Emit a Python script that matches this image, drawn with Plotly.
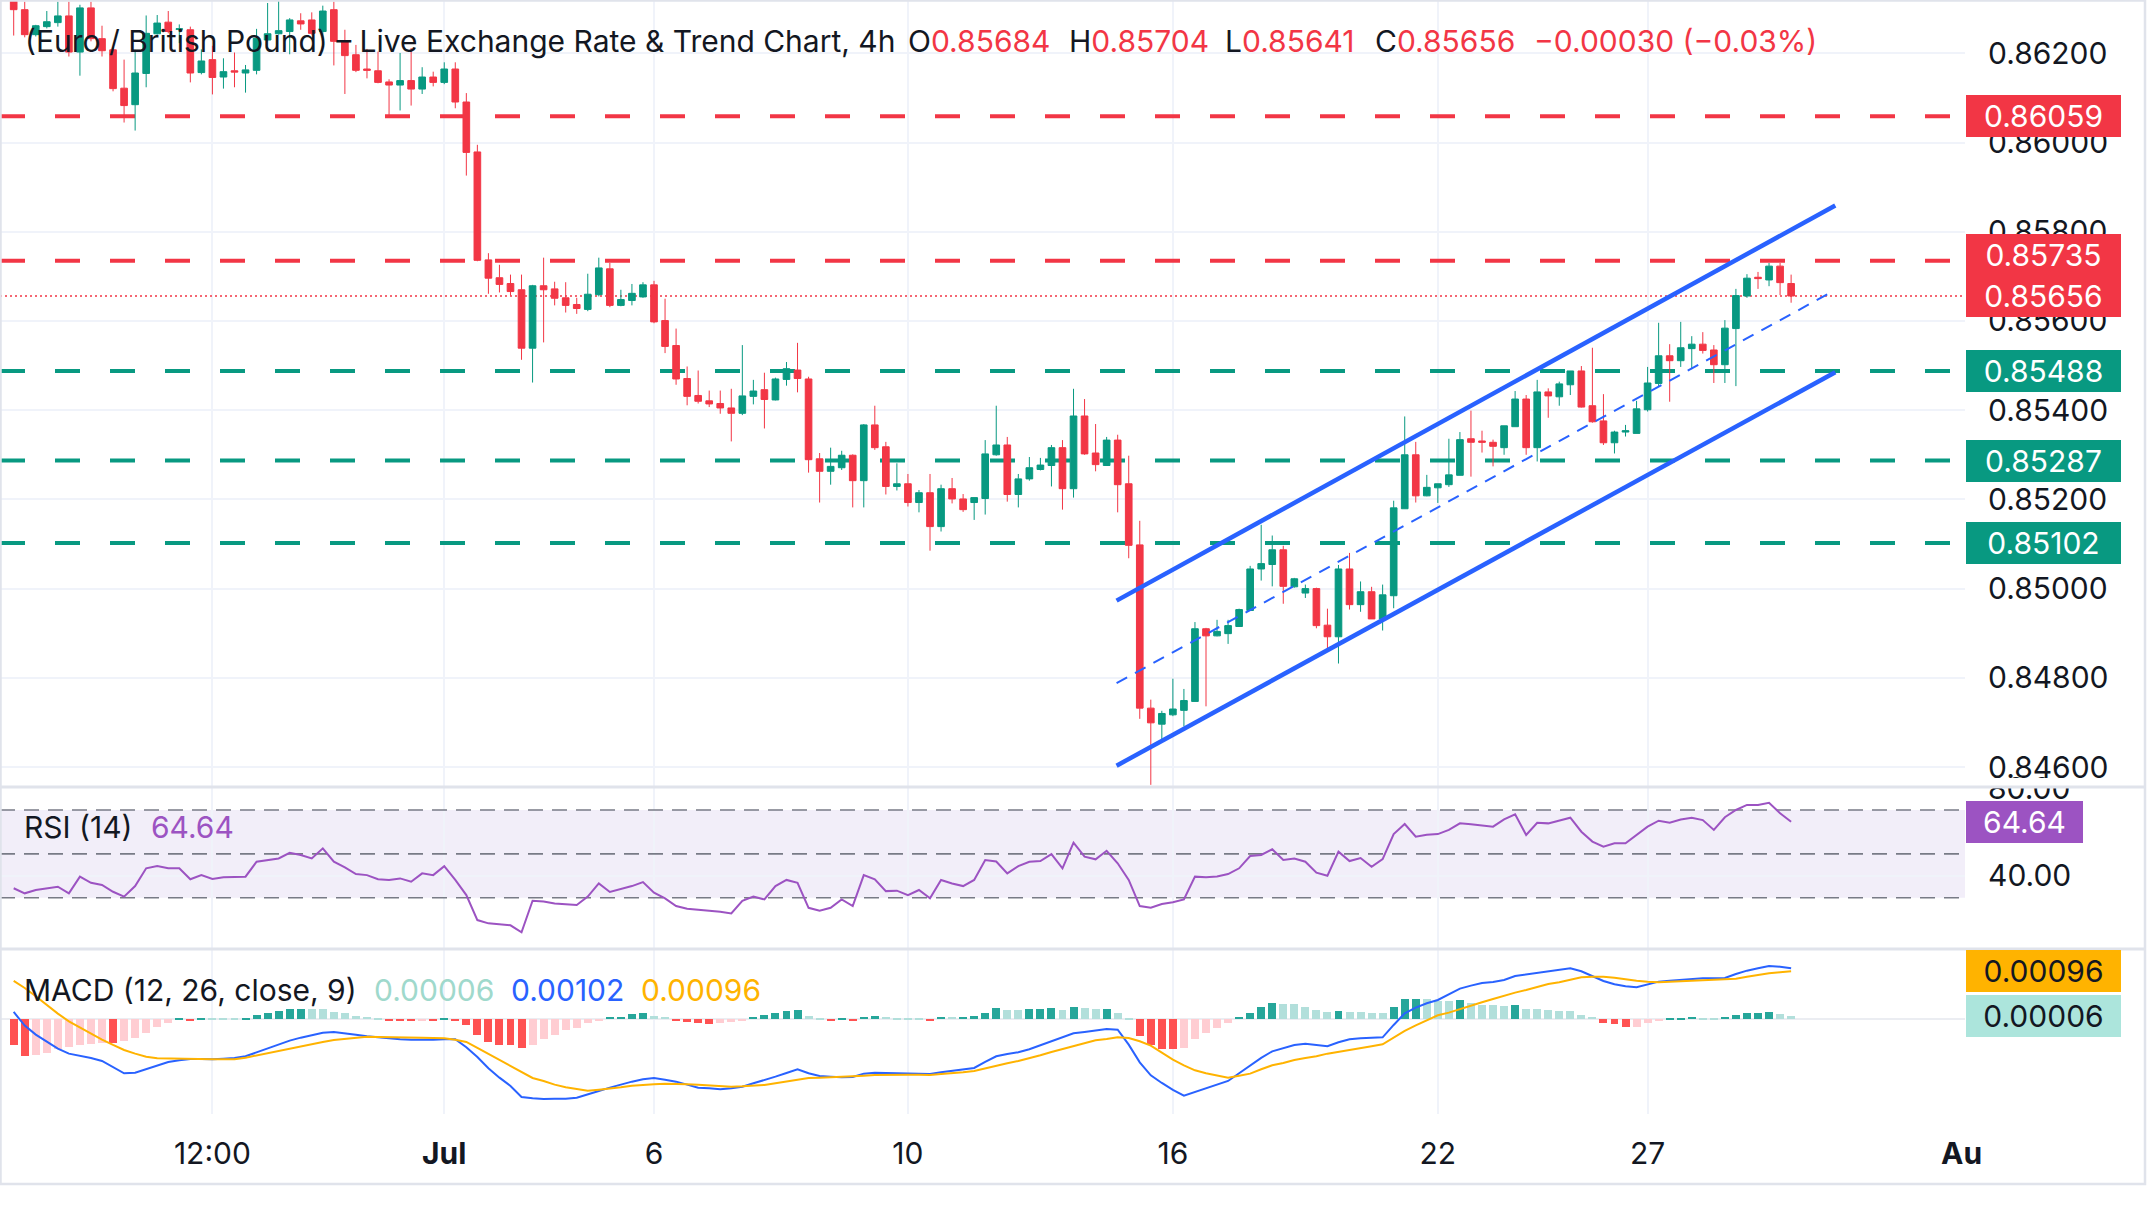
import plotly.graph_objects as go

# ---------------- data ----------------
candle_open = [
    0.86318, 0.86298, 0.86242, 0.86260, 0.86269, 0.86284, 0.86203, 0.86302, 0.86233, 0.86208,
    0.86122, 0.86085, 0.86155, 0.86244, 0.86270, 0.86254, 0.86253, 0.86157, 0.86186, 0.86147,
    0.86161, 0.86156, 0.86162, 0.86230, 0.86244, 0.86249, 0.86273, 0.86275, 0.86249, 0.86298,
    0.86227, 0.86197, 0.86165, 0.86161, 0.86136, 0.86129, 0.86139, 0.86120, 0.86147, 0.86135,
    0.86165, 0.86091, 0.85979, 0.85737, 0.85697, 0.85684, 0.85670, 0.85539, 0.85679, 0.85672,
    0.85652, 0.85637, 0.85626, 0.85659, 0.85717, 0.85635, 0.85646, 0.85654, 0.85681, 0.85601,
    0.85545, 0.85471, 0.85433, 0.85421, 0.85415, 0.85405, 0.85393, 0.85431, 0.85446, 0.85423,
    0.85469, 0.85490, 0.85470, 0.85291, 0.85263, 0.85271, 0.85299, 0.85242, 0.85367, 0.85318,
    0.85229, 0.85235, 0.85193, 0.85215, 0.85139, 0.85224, 0.85201, 0.85193, 0.85202, 0.85300,
    0.85322, 0.85211, 0.85246, 0.85267, 0.85276, 0.85316, 0.85224, 0.85387, 0.85304, 0.85276,
    0.85333, 0.85235, 0.85098, 0.84732, 0.84696, 0.84717, 0.84727, 0.84747, 0.84910, 0.84894,
    0.84899, 0.84915, 0.84951, 0.85044, 0.85054, 0.85087, 0.85004, 0.84990, 0.85000, 0.84918,
    0.84892, 0.85044, 0.84964, 0.84993, 0.84932, 0.84984, 0.85179, 0.85300, 0.85208, 0.85226,
    0.85233, 0.85254, 0.85336, 0.85331, 0.85328, 0.85316, 0.85363, 0.85425, 0.85316, 0.85441,
    0.85430, 0.85457, 0.85488, 0.85410, 0.85376, 0.85327, 0.85351, 0.85348, 0.85401, 0.85460,
    0.85522, 0.85511, 0.85538, 0.85548, 0.85535, 0.85502, 0.85583, 0.85656, 0.85698, 0.85692,
    0.85723, 0.85684]
candle_high = [
    0.86326, 0.86316, 0.86264, 0.86295, 0.86316, 0.86316, 0.86309, 0.86316, 0.86262, 0.86215,
    0.86186, 0.86208, 0.86285, 0.86286, 0.86295, 0.86265, 0.86260, 0.86209, 0.86217, 0.86189,
    0.86202, 0.86174, 0.86255, 0.86313, 0.86318, 0.86279, 0.86290, 0.86292, 0.86307, 0.86316,
    0.86253, 0.86219, 0.86210, 0.86204, 0.86142, 0.86201, 0.86212, 0.86169, 0.86159, 0.86180,
    0.86180, 0.86111, 0.85995, 0.85752, 0.85726, 0.85704, 0.85704, 0.85681, 0.85742, 0.85688,
    0.85687, 0.85652, 0.85706, 0.85742, 0.85730, 0.85670, 0.85683, 0.85687, 0.85690, 0.85650,
    0.85583, 0.85498, 0.85489, 0.85444, 0.85444, 0.85448, 0.85546, 0.85468, 0.85484, 0.85473,
    0.85508, 0.85551, 0.85475, 0.85304, 0.85316, 0.85309, 0.85301, 0.85369, 0.85410, 0.85329,
    0.85281, 0.85257, 0.85221, 0.85257, 0.85233, 0.85248, 0.85212, 0.85204, 0.85333, 0.85410,
    0.85340, 0.85257, 0.85295, 0.85293, 0.85322, 0.85333, 0.85448, 0.85425, 0.85369, 0.85340,
    0.85345, 0.85298, 0.85152, 0.84751, 0.84726, 0.84798, 0.84775, 0.84925, 0.84912, 0.84930,
    0.84930, 0.84955, 0.85051, 0.85143, 0.85119, 0.85096, 0.85024, 0.85009, 0.85002, 0.84955,
    0.85053, 0.85080, 0.85016, 0.85004, 0.85009, 0.85197, 0.85386, 0.85329, 0.85255, 0.85235,
    0.85336, 0.85351, 0.85399, 0.85354, 0.85334, 0.85365, 0.85443, 0.85434, 0.85468, 0.85449,
    0.85464, 0.85488, 0.85499, 0.85540, 0.85436, 0.85354, 0.85367, 0.85421, 0.85497, 0.85596,
    0.85548, 0.85598, 0.85566, 0.85575, 0.85546, 0.85602, 0.85672, 0.85705, 0.85710, 0.85730,
    0.85730, 0.85704]
candle_low = [
    0.86240, 0.86236, 0.86238, 0.86256, 0.86260, 0.86193, 0.86150, 0.86227, 0.86193, 0.86115,
    0.86045, 0.86027, 0.86124, 0.86242, 0.86245, 0.86223, 0.86135, 0.86153, 0.86108, 0.86121,
    0.86124, 0.86112, 0.86153, 0.86227, 0.86242, 0.86198, 0.86253, 0.86242, 0.86230, 0.86173,
    0.86109, 0.86158, 0.86144, 0.86133, 0.86062, 0.86072, 0.86083, 0.86109, 0.86126, 0.86131,
    0.86077, 0.85926, 0.85734, 0.85661, 0.85664, 0.85657, 0.85513, 0.85462, 0.85552, 0.85635,
    0.85619, 0.85616, 0.85622, 0.85655, 0.85631, 0.85633, 0.85635, 0.85652, 0.85595, 0.85528,
    0.85457, 0.85411, 0.85415, 0.85407, 0.85392, 0.85330, 0.85389, 0.85413, 0.85359, 0.85422,
    0.85455, 0.85440, 0.85260, 0.85193, 0.85233, 0.85266, 0.85182, 0.85182, 0.85311, 0.85211,
    0.85220, 0.85184, 0.85171, 0.85085, 0.85128, 0.85191, 0.85172, 0.85154, 0.85166, 0.85298,
    0.85195, 0.85182, 0.85242, 0.85265, 0.85229, 0.85177, 0.85204, 0.85300, 0.85263, 0.85275,
    0.85171, 0.85068, 0.84708, 0.84560, 0.84658, 0.84714, 0.84691, 0.84747, 0.84736, 0.84893,
    0.84876, 0.84914, 0.84950, 0.85018, 0.85005, 0.84966, 0.85002, 0.84979, 0.84911, 0.84860,
    0.84832, 0.84953, 0.84948, 0.84932, 0.84906, 0.84956, 0.85179, 0.85193, 0.85207, 0.85192,
    0.85228, 0.85254, 0.85251, 0.85305, 0.85274, 0.85300, 0.85363, 0.85300, 0.85285, 0.85383,
    0.85410, 0.85434, 0.85406, 0.85372, 0.85322, 0.85303, 0.85341, 0.85348, 0.85397, 0.85453,
    0.85419, 0.85497, 0.85492, 0.85527, 0.85461, 0.85461, 0.85454, 0.85652, 0.85672, 0.85678,
    0.85658, 0.85641]
candle_close = [
    0.86298, 0.86242, 0.86262, 0.86271, 0.86284, 0.86203, 0.86302, 0.86233, 0.86206, 0.86121,
    0.86083, 0.86156, 0.86245, 0.86268, 0.86249, 0.86255, 0.86156, 0.86183, 0.86146, 0.86159,
    0.86158, 0.86163, 0.86234, 0.86244, 0.86251, 0.86275, 0.86266, 0.86245, 0.86295, 0.86227,
    0.86195, 0.86162, 0.86162, 0.86135, 0.86129, 0.86139, 0.86120, 0.86147, 0.86135, 0.86165,
    0.86091, 0.85978, 0.85736, 0.85696, 0.85682, 0.85666, 0.85539, 0.85679, 0.85670, 0.85651,
    0.85635, 0.85628, 0.85660, 0.85719, 0.85635, 0.85648, 0.85662, 0.85681, 0.85598, 0.85543,
    0.85470, 0.85431, 0.85420, 0.85414, 0.85405, 0.85393, 0.85432, 0.85443, 0.85424, 0.85470,
    0.85493, 0.85471, 0.85289, 0.85263, 0.85274, 0.85299, 0.85242, 0.85367, 0.85316, 0.85229,
    0.85235, 0.85193, 0.85215, 0.85139, 0.85224, 0.85201, 0.85177, 0.85204, 0.85302, 0.85322,
    0.85211, 0.85246, 0.85271, 0.85277, 0.85316, 0.85224, 0.85387, 0.85302, 0.85278, 0.85333,
    0.85233, 0.85097, 0.84732, 0.84699, 0.84720, 0.84730, 0.84749, 0.84910, 0.84894, 0.84904,
    0.84917, 0.84953, 0.85044, 0.85056, 0.85087, 0.85005, 0.85022, 0.85000, 0.84917, 0.84892,
    0.85044, 0.84964, 0.84993, 0.84932, 0.84986, 0.85181, 0.85300, 0.85208, 0.85227, 0.85235,
    0.85255, 0.85334, 0.85328, 0.85328, 0.85319, 0.85365, 0.85425, 0.85316, 0.85441, 0.85432,
    0.85459, 0.85488, 0.85407, 0.85374, 0.85327, 0.85351, 0.85354, 0.85403, 0.85461, 0.85522,
    0.85511, 0.85540, 0.85548, 0.85534, 0.85502, 0.85584, 0.85657, 0.85696, 0.85695, 0.85723,
    0.85686, 0.85656]

rsi_values = [
    34.3, 32.0, 33.5, 34.1, 35.0, 32.0, 39.6, 36.8, 35.8, 32.7,
    30.5, 35.3, 43.4, 44.4, 43.4, 43.4, 38.4, 40.3, 38.5, 39.3,
    39.3, 39.6, 46.4, 47.2, 47.9, 50.5, 49.5, 47.9, 52.5, 46.4,
    43.8, 40.8, 40.3, 38.4, 38.1, 38.8, 37.3, 41.1, 40.3, 44.4,
    38.1, 31.2, 19.8, 18.3, 17.8, 17.4, 14.2, 28.6, 28.3, 27.4,
    27.0, 26.7, 30.5, 36.5, 32.6, 33.8, 35.3, 37.1, 32.3, 29.7,
    26.2, 25.0, 24.4, 24.1, 23.6, 22.8, 28.6, 30.5, 29.2, 35.3,
    38.1, 36.8, 25.4, 24.1, 25.4, 29.2, 26.2, 40.3, 38.4, 33.0,
    33.2, 31.2, 33.5, 29.7, 38.1, 36.5, 35.3, 38.1, 47.2, 46.5,
    41.1, 44.4, 46.4, 46.7, 49.9, 43.4, 55.1, 48.7, 47.5, 51.4,
    45.7, 38.1, 26.2, 25.4, 27.1, 27.9, 29.2, 39.6, 39.3, 39.7,
    40.8, 43.4, 49.0, 49.5, 52.1, 47.2, 47.9, 46.4, 41.4, 40.0,
    51.0, 46.7, 48.1, 44.1, 47.6, 59.0, 63.6, 57.8, 58.7, 59.0,
    60.9, 63.9, 63.5, 62.9, 62.4, 65.7, 68.0, 58.6, 64.2, 63.9,
    65.1, 66.5, 60.1, 55.6, 53.3, 54.8, 54.8, 58.6, 62.4, 65.1,
    64.2, 65.7, 66.5, 65.4, 60.9, 66.7, 70.0, 72.3, 72.3, 73.3,
    68.5, 64.64]

macd_values = [
    0.000147, -0.000127, -0.000307, -0.000453, -0.000587, -0.000687, -0.000727, -0.000773, -0.000833, -0.000953,
    -0.00108, -0.001067, -0.001, -0.00092, -0.000853, -0.00082, -0.000793, -0.000793, -0.0008, -0.000787,
    -0.000773, -0.00074, -0.00066, -0.00058, -0.000507, -0.000427, -0.000367, -0.000313, -0.000267, -0.000253,
    -0.000273, -0.000307, -0.00034, -0.00036, -0.000387, -0.0004, -0.000407, -0.000413, -0.000407, -0.0004,
    -0.0004, -0.00056, -0.000753, -0.00098, -0.001167, -0.001333, -0.001553, -0.00158, -0.001593, -0.001587,
    -0.001587, -0.001567, -0.001507, -0.001433, -0.001367, -0.0013, -0.001247, -0.0012, -0.001173, -0.001207,
    -0.001247, -0.001307, -0.001367, -0.00138, -0.0014, -0.00138, -0.001347, -0.00128, -0.00122, -0.001147,
    -0.001073, -0.001, -0.00108, -0.001133, -0.001147, -0.00116, -0.001153, -0.001087, -0.001067, -0.001073,
    -0.00108, -0.001087, -0.001087, -0.001093, -0.00106, -0.001033, -0.001007, -0.000973, -0.000853, -0.00074,
    -0.000693, -0.00066, -0.0006, -0.00052, -0.000447, -0.00036, -0.00028, -0.000253, -0.000227, -0.000193,
    -0.000207, -0.000507, -0.00086, -0.00112, -0.001273, -0.001413, -0.001527, -0.001453, -0.001373, -0.001307,
    -0.001233, -0.00108, -0.000927, -0.000773, -0.00064, -0.000573, -0.000513, -0.000487, -0.000507, -0.00054,
    -0.00046, -0.0004, -0.00038, -0.000367, -0.00036, -0.000113, 0.00012, 0.000233, 0.00032, 0.000387,
    0.000507, 0.000613, 0.000673, 0.000727, 0.000747, 0.000787, 0.000867, 0.0009, 0.00092, 0.000953,
    0.000987, 0.00102, 0.00096, 0.000867, 0.000767, 0.0007, 0.00066, 0.00064, 0.0007, 0.000753,
    0.000773, 0.000793, 0.000813, 0.00082, 0.00082, 0.000827, 0.000907, 0.000973, 0.00102, 0.001067,
    0.001053, 0.00102]
signal_values = [
    0.000767, 0.000627, 0.00046, 0.000287, 0.000113, -0.00004, -0.000167, -0.000293, -0.000407, -0.000513,
    -0.000613, -0.000687, -0.000747, -0.00078, -0.000787, -0.000793, -0.0008, -0.0008, -0.0008, -0.0008,
    -0.0008, -0.000767, -0.00072, -0.00068, -0.000633, -0.000587, -0.00054, -0.000493, -0.000453, -0.000413,
    -0.000387, -0.000367, -0.000347, -0.000353, -0.000353, -0.00036, -0.000367, -0.000367, -0.000373, -0.00038,
    -0.000407, -0.000453, -0.000573, -0.000693, -0.00082, -0.00094, -0.00106, -0.001173, -0.001233, -0.001307,
    -0.00136, -0.001393, -0.001427, -0.001407, -0.001387, -0.00136, -0.001327, -0.001307, -0.0013, -0.001287,
    -0.001287, -0.0013, -0.001307, -0.00132, -0.001333, -0.001347, -0.00134, -0.001327, -0.001313, -0.00128,
    -0.00124, -0.0012, -0.001173, -0.001167, -0.00116, -0.001153, -0.00114, -0.001127, -0.001113, -0.001107,
    -0.0011, -0.001107, -0.001107, -0.001113, -0.001093, -0.00108, -0.00106, -0.001033, -0.000987, -0.000933,
    -0.00088, -0.000833, -0.00078, -0.00072, -0.000653, -0.000593, -0.000527, -0.000467, -0.00042, -0.000393,
    -0.00036, -0.000373, -0.00044, -0.000527, -0.00066, -0.000807, -0.00092, -0.00102, -0.00108, -0.001127,
    -0.001167, -0.001127, -0.001087, -0.001, -0.00092, -0.000873, -0.000813, -0.000773, -0.00074, -0.000687,
    -0.000653, -0.000613, -0.000573, -0.00054, -0.0005, -0.000367, -0.000233, -0.00012, -0.000013, 0.00008,
    0.000133, 0.000207, 0.000273, 0.00034, 0.000407, 0.000473, 0.000533, 0.000587, 0.000647, 0.000707,
    0.00074, 0.000793, 0.00084, 0.000853, 0.000853, 0.000833, 0.0008, 0.000773, 0.000753, 0.00074,
    0.000753, 0.000767, 0.00078, 0.00078, 0.000793, 0.0008, 0.000813, 0.000853, 0.000893, 0.00092,
    0.00094, 0.00096]
hist_values = [
    -0.00051, -0.00073, -0.00072, -0.00067, -0.0006, -0.00055, -0.00051, -0.00049, -0.00048, -0.00048,
    -0.00043, -0.00038, -0.00027, -0.00016, -0.00007, 0.00003, -0.00003, 0.00001, 0.00001, 0.00001,
    0.00001, 0.00003, 0.00008, 0.00012, 0.00017, 0.0002, 0.00021, 0.00021, 0.0002, 0.00014,
    0.00012, 0.00007, 0.00004, 0.00001, -0.00004, -0.00004, -0.00004, -0.00003, -0.00003, 0.00002,
    -0.00003, -0.00011, -0.00031, -0.00045, -0.00051, -0.00051, -0.00058, -0.00051, -0.0004, -0.00031,
    -0.00021, -0.00018, -0.00007, -0.00003, 0.00004, 0.00005, 0.00011, 0.00012, 0.00007, 0.00004,
    -0.00003, -0.00005, -0.00008, -0.0001, -0.00007, -0.00005, -0.00003, 0.00004, 0.00008, 0.00012,
    0.00017, 0.00019, 0.00007, 0.00001, -0.00003, 0.00002, -0.00003, 0.00004, 0.00007, 0.00004,
    0.00002, 0.00001, 0.00001, -0.00003, 0.00004, 0.00004, 0.00005, 0.00007, 0.00013, 0.00022,
    0.00019, 0.00019, 0.0002, 0.00021, 0.00022, 0.00019, 0.00024, 0.00022, 0.0002, 0.00021,
    0.00013, 0.00002, -0.00033, -0.00051, -0.0006, -0.0006, -0.00058, -0.0004, -0.00028, -0.00018,
    -0.00008, 0.00005, 0.00013, 0.00024, 0.00033, 0.00031, 0.00031, 0.00025, 0.00019, 0.00015,
    0.00017, 0.00015, 0.00015, 0.00012, 0.00012, 0.00024, 0.0004, 0.00041, 0.00041, 0.00037,
    0.00037, 0.00039, 0.00033, 0.00029, 0.00029, 0.00027, 0.00028, 0.0002, 0.0002, 0.00019,
    0.00017, 0.00017, 0.00009, 0.00004, -0.00008, -0.00009, -0.00016, -0.00015, -0.00008, -0.00004,
    0.00001, 0.00003, 0.00005, 0.00003, 0.00002, 0.00005, 0.00009, 0.00012, 0.00013, 0.00015,
    0.00011, 0.00006]

resistance_levels = [0.86059, 0.85735]
support_levels = [0.85488, 0.85287, 0.85102]
last_price = 0.85656
channel_x = [99.9, 165.0]
channel_upper = [0.84973, 0.85859]
channel_lower = [0.84603, 0.85485]
channel_mid_x = [99.9, 164.3]
channel_mid = [0.84788, 0.85660]
rsi_band_levels = [70, 50, 30]

x_tick_idx = [18, 39, 58, 81, 105, 129, 148]
x_tick_text = ["12:00", "<b>Jul</b>", "6", "10", "16", "22", "27"]
next_month_label = "<b>Au</b>"
price_ticks = [0.846, 0.848, 0.850, 0.852, 0.854, 0.856, 0.858, 0.860, 0.862]
rsi_ticks = [40, 80]

title_text = "(Euro / British Pound) \u2013 Live Exchange Rate & Trend Chart, 4h"
change_text = "\u22120.00030 (\u22120.03%)"

# ---------------- style / layout ----------------
FONT = "Inter"
FS = 30
TXT = "#131722"
UP = "#089981"
DOWN = "#F23645"
GRID = "#F0F3FA"
BLUE = "#2962FF"
ORANGE = "#FFB300"
RSI_C = "#9C53C2"
W, H = 2147, 1218
PLOT_R = 1965
PLOT_B = 1114
x_range = [-1.24, 176.75]
main_range = [0.845574, 0.863197]
rsi_range = [7.06, 80.03]
macd_range = [-0.001894, 0.001386]


def pxx(x):
    return x / PLOT_R


def pxy(y):
    return (PLOT_B - y) / PLOT_B


x_idx = list(range(len(candle_open)))

hist_colors = []
prev = None
for h in hist_values:
    rising = prev is not None and h > prev
    if h >= 0:
        hist_colors.append("#26A69A" if rising else "#B2DFDB")
    else:
        hist_colors.append("#FFCDD2" if rising else "#FF5252")
    prev = h

fig = go.Figure()
fig.add_trace(go.Candlestick(
    x=x_idx, open=candle_open, high=candle_high, low=candle_low, close=candle_close,
    xaxis="x", yaxis="y", whiskerwidth=0,
    increasing=dict(line=dict(color=UP, width=1), fillcolor=UP),
    decreasing=dict(line=dict(color=DOWN, width=1), fillcolor=DOWN),
    showlegend=False, hoverinfo="skip"))
fig.add_trace(go.Scatter(x=x_idx, y=rsi_values, xaxis="x2", yaxis="y2", mode="lines",
                         line=dict(color=RSI_C, width=2), showlegend=False, hoverinfo="skip"))
fig.add_trace(go.Bar(x=x_idx, y=hist_values, xaxis="x3", yaxis="y3", width=0.72,
                     marker=dict(color=hist_colors, line=dict(width=0)),
                     showlegend=False, hoverinfo="skip"))
fig.add_trace(go.Scatter(x=x_idx, y=macd_values, xaxis="x3", yaxis="y3", mode="lines",
                         line=dict(color=BLUE, width=2), showlegend=False, hoverinfo="skip"))
fig.add_trace(go.Scatter(x=x_idx, y=signal_values, xaxis="x3", yaxis="y3", mode="lines",
                         line=dict(color=ORANGE, width=2), showlegend=False, hoverinfo="skip"))

shapes = []
# RSI band
shapes.append(dict(type="rect", xref="x2", yref="y2", x0=x_range[0], x1=x_range[1],
                   y0=rsi_band_levels[2], y1=rsi_band_levels[0],
                   fillcolor="rgba(126,87,194,0.10)", line=dict(width=0), layer="below"))
for lv in rsi_band_levels:
    shapes.append(dict(type="line", xref="x2", yref="y2", x0=x_range[0], x1=x_range[1], y0=lv, y1=lv,
                       line=dict(color="#787B86", width=1.6, dash="15px,9px"), layer="between"))
for lv in resistance_levels:
    shapes.append(dict(type="line", xref="x", yref="y", x0=x_range[0], x1=x_range[1], y0=lv, y1=lv,
                       line=dict(color=DOWN, width=4, dash="25px,30px"), layer="between"))
for lv in support_levels:
    shapes.append(dict(type="line", xref="x", yref="y", x0=x_range[0], x1=x_range[1], y0=lv, y1=lv,
                       line=dict(color=UP, width=4, dash="25px,30px"), layer="between"))
shapes.append(dict(type="line", xref="x", yref="y", x0=x_range[0], x1=x_range[1], y0=last_price, y1=last_price,
                   line=dict(color=DOWN, width=1.5, dash="2px,3px"), layer="between"))
# trend channel
shapes.append(dict(type="line", xref="x", yref="y", x0=channel_x[0], x1=channel_x[1],
                   y0=channel_upper[0], y1=channel_upper[1], line=dict(color=BLUE, width=4.5), layer="above"))
shapes.append(dict(type="line", xref="x", yref="y", x0=channel_x[0], x1=channel_x[1],
                   y0=channel_lower[0], y1=channel_lower[1], line=dict(color=BLUE, width=4.5), layer="above"))
shapes.append(dict(type="line", xref="x", yref="y", x0=channel_mid_x[0], x1=channel_mid_x[1],
                   y0=channel_mid[0], y1=channel_mid[1], line=dict(color=BLUE, width=2, dash="12px,9px"),
                   layer="above"))
# cover top half of the clipped "80.00" label
shapes.append(dict(type="rect", xref="paper", yref="paper", x0=pxx(1966), x1=pxx(2141),
                   y0=pxy(787), y1=pxy(778), fillcolor="white", line=dict(width=0), layer="above"))
# pane separators and frame
for ysep in (787, 949):
    shapes.append(dict(type="line", xref="paper", yref="paper", x0=0, x1=pxx(2145), y0=pxy(ysep), y1=pxy(ysep),
                       line=dict(color="#E0E3EB", width=3), layer="above"))
shapes.append(dict(type="rect", xref="paper", yref="paper", x0=pxx(0.5), x1=pxx(2145), y0=pxy(1184), y1=pxy(0.5),
                   line=dict(color="#E0E3EB", width=2.5), fillcolor="rgba(0,0,0,0)", layer="above"))

ann = []


def txt(x, y, text, color=TXT, size=FS, anchor="left"):
    ann.append(dict(x=pxx(x), y=pxy(y), xref="paper", yref="paper", text=text, showarrow=False,
                    xanchor=anchor, yanchor="middle", font=dict(family=FONT, size=size, color=color)))


txt(23, 41, title_text)
ohlc = [("O", candle_open[-1], 906), ("H", candle_high[-1], 1067),
        ("L", candle_low[-1], 1223), ("C", candle_close[-1], 1373)]
for lab, val, xp in ohlc:
    txt(xp, 41, f"{lab}<span style='color:{DOWN}'>{val:.5f}</span>")
txt(1532, 41, change_text, color=DOWN)

txt(22, 827, "RSI (14)")
txt(149, 827, f"{rsi_values[-1]:.2f}", color=RSI_C)
txt(22, 990, "MACD (12, 26, close, 9)")
txt(372, 990, f"{hist_values[-1]:.5f}", color="#9FD9CC")
txt(509, 990, f"{macd_values[-1]:.5f}", color=BLUE)
txt(639, 990, f"{signal_values[-1]:.5f}", color=ORANGE)
txt(1939, 1153, next_month_label)


def box(val, yref, bg, fg, text, width, yshift=0):
    ann.append(dict(x=pxx(1966), xref="paper", xanchor="left", y=val, yref=yref, yanchor="middle",
                    yshift=yshift, text=text, showarrow=False, bgcolor=bg, borderpad=0, borderwidth=0,
                    width=width, height=42, align="center", valign="middle",
                    font=dict(family=FONT, size=FS, color=fg)))


box(resistance_levels[0], "y", DOWN, "white", f"{resistance_levels[0]:.5f}", 155)
box(resistance_levels[1], "y", DOWN, "white", f"{resistance_levels[1]:.5f}", 155, yshift=6)
box(last_price, "y", DOWN, "white", f"{last_price:.5f}", 155)
for lv in support_levels:
    box(lv, "y", UP, "white", f"{lv:.5f}", 155)
box(rsi_values[-1], "y2", RSI_C, "white", f"{rsi_values[-1]:.2f}", 117)
box(signal_values[-1], "y3", ORANGE, TXT, f"{signal_values[-1]:.5f}", 155)
box(hist_values[-1], "y3", "#ACE5DC", TXT, f"{hist_values[-1]:.5f}", 155)

xcommon = dict(range=x_range, tickmode="array", tickvals=x_tick_idx, ticktext=x_tick_text,
               showgrid=True, gridcolor=GRID, gridwidth=1.5, zeroline=False, showline=False,
               fixedrange=True)
ycommon = dict(side="right", showline=False, zeroline=False, gridcolor=GRID, gridwidth=1.5,
               ticks="outside", ticklen=16, tickcolor="rgba(0,0,0,0)",
               tickfont=dict(family=FONT, size=FS, color=TXT))

fig.update_layout(
    width=W, height=H, paper_bgcolor="white", plot_bgcolor="white",
    margin=dict(l=0, r=W - PLOT_R, t=0, b=H - PLOT_B, autoexpand=False),
    showlegend=False, hovermode=False, boxgap=0.14, bargap=0,
    xaxis=dict(xcommon, anchor="y", showticklabels=False, rangeslider=dict(visible=False)),
    xaxis2=dict(xcommon, anchor="y2", matches="x", showticklabels=False),
    xaxis3=dict(xcommon, anchor="y3", matches="x", showticklabels=True, ticks="outside", ticklen=13,
                tickcolor="rgba(0,0,0,0)", tickfont=dict(family=FONT, size=FS, color=TXT)),
    yaxis=dict(ycommon, anchor="x", domain=[pxy(786), 1.0], range=main_range,
               tickmode="array", tickvals=price_ticks, ticktext=[f"{v:.5f}" for v in price_ticks]),
    yaxis2=dict(ycommon, anchor="x2", domain=[pxy(948), pxy(788)], range=rsi_range,
                tickmode="array", tickvals=rsi_ticks, ticktext=[f"{v:.2f}" for v in rsi_ticks]),
    yaxis3=dict(ycommon, anchor="x3", domain=[0, pxy(950)], range=macd_range, showgrid=False,
                showticklabels=False, zeroline=True, zerolinecolor="#EBEDF2", zerolinewidth=1.5),
    shapes=shapes, annotations=ann,
)

fig.write_html("out.html")
